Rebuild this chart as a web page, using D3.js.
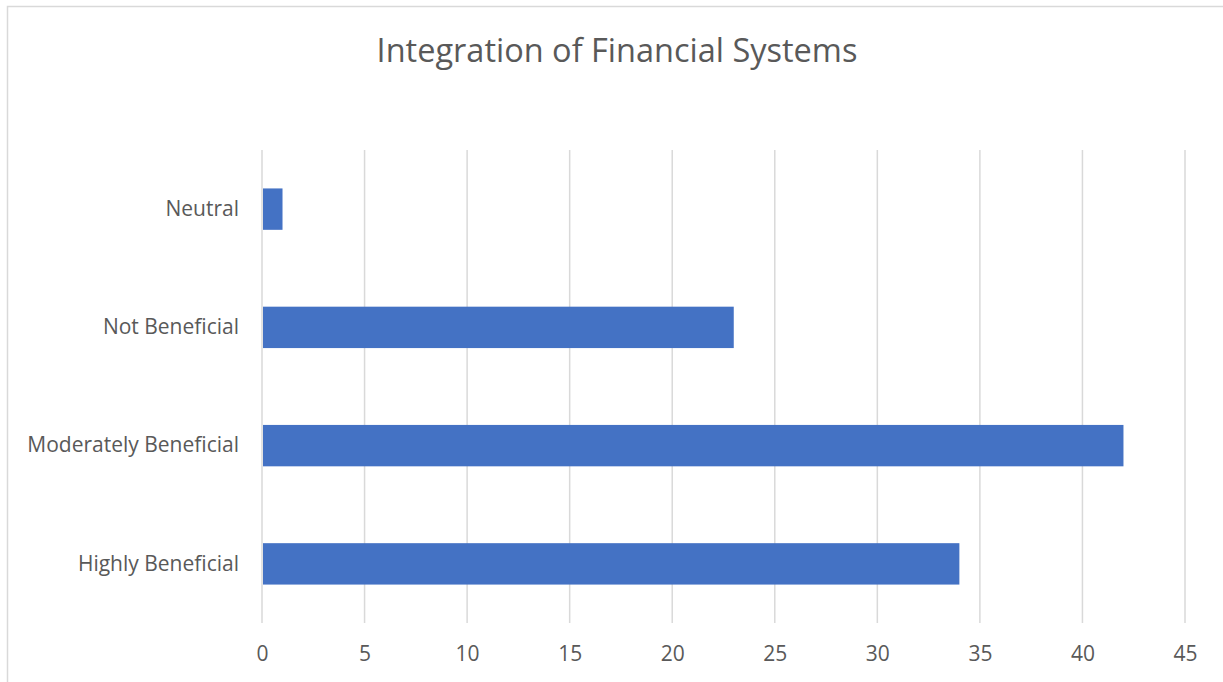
<!DOCTYPE html>
<html>
<head>
<meta charset="utf-8">
<script src="https://cdn.jsdelivr.net/npm/d3@7"></script>
<style>
  html, body { margin: 0; padding: 0; background: #fff; }
  svg { display: block; }
  text { font-family: "Open Sans", "Noto Sans", sans-serif; fill: #595959; }
</style>
</head>
<body>
<svg id="chart" width="1223" height="682"></svg>
<script>
// Survey responses: perceived benefit of integrating financial systems
const categories = ["Highly Beneficial", "Moderately Beneficial", "Not Beneficial", "Neutral"];
const counts = [34, 42, 23, 1];
const xTicks = [0, 5, 10, 15, 20, 25, 30, 35, 40, 45];
const title = "Integration of Financial Systems";

const svg = d3.select("#chart");
const W = 1223, H = 682;
const margin = { left: 262, right: W - 1185, top: 150, bottom: H - 623 };

// chart frame
svg.append("path")
  .attr("d", `M7.5,${H} V6.5 H${W}`)
  .attr("fill", "none")
  .attr("stroke", "#d9d9d9")
  .attr("stroke-width", 1.5);

const x = d3.scaleLinear().domain([0, 45]).range([margin.left, W - margin.right]);
const y = d3.scaleBand()
  .domain(categories.slice().reverse())
  .range([margin.top, H - margin.bottom])
  .paddingInner(0.65)
  .paddingOuter(0.325);

// vertical gridlines
svg.append("g")
  .selectAll("line")
  .data(xTicks)
  .join("line")
  .attr("x1", d => x(d)).attr("x2", d => x(d))
  .attr("y1", margin.top).attr("y2", H - margin.bottom)
  .attr("stroke", "#d9d9d9")
  .attr("stroke-width", 1.5);

// bars
svg.append("g")
  .selectAll("rect")
  .data(categories.map((c, i) => ({ c, v: counts[i] })))
  .join("rect")
  .attr("x", x(0) + 1)
  .attr("y", d => y(d.c))
  .attr("width", d => x(d.v) - x(0) - 1)
  .attr("height", y.bandwidth())
  .attr("fill", "#4472c4");

// x axis labels
const xAxis = d3.axisBottom(x).tickValues(xTicks).tickSize(0).tickPadding(23);
const gx = svg.append("g")
  .attr("transform", `translate(0,${H - margin.bottom})`)
  .call(xAxis);
gx.select(".domain").remove();
gx.selectAll("text")
  .attr("font-size", 21)
  .attr("font-family", null)
  .style("fill", "#595959");

// category labels
const yAxis = d3.axisLeft(y).tickSize(0).tickPadding(23);
const gy = svg.append("g")
  .attr("transform", `translate(${margin.left},0)`)
  .call(yAxis);
gy.select(".domain").remove();
gy.selectAll("text")
  .attr("font-size", 21)
  .attr("font-family", null)
  .style("fill", "#595959");

// title
svg.append("text")
  .attr("x", 617)
  .attr("y", 62)
  .attr("text-anchor", "middle")
  .attr("font-size", 32.5)
  .text(title);
</script>
</body>
</html>
